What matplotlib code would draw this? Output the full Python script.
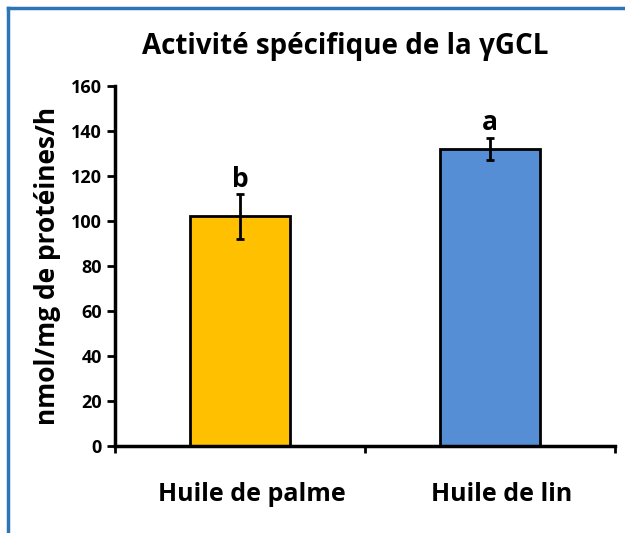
import matplotlib.pyplot as plt
from matplotlib.lines import Line2D
from matplotlib.transforms import ScaledTranslation

categories = ['Huile de palme', 'Huile de lin']
values = [102, 132]
errors = [10, 5]
letters = ['b', 'a']
colors = ['#FFC000', '#558ED5']

plt.rcParams['font.family'] = ['Open Sans', 'DejaVu Sans']

fig = plt.figure(figsize=(6.25, 5.33), dpi=100)
ax = fig.add_axes([0.184, 0.163, 0.8, 0.676])

x = [0.5, 1.5]
ax.bar(x, values, width=0.4, color=colors, edgecolor='black', linewidth=2, zorder=2)
ax.errorbar(x, values, yerr=errors, fmt='none', ecolor='black', elinewidth=2,
            capsize=3, capthick=2, zorder=3)
for xi, v, e, l in zip(x, values, errors, letters):
    ax.text(xi, v + e + 0.5, l, ha='center', va='bottom', fontsize=19, fontweight='bold')

ax.set_xlim(0, 2)
ax.set_ylim(0, 160)
ax.set_yticks(range(0, 161, 20))
ax.tick_params(axis='y', labelsize=13, width=2, length=6, direction='out')
for lbl in ax.get_yticklabels():
    lbl.set_fontweight('bold')
ax.set_xticks([0, 1, 2])
ax.set_xticklabels([])
ax.tick_params(axis='x', width=2, length=5, direction='out')
ax.set_xticks(x, minor=True)
ax.set_xticklabels(categories, minor=True, fontsize=18, fontweight='bold')
ax.tick_params(axis='x', which='minor', length=0, pad=26)
# labels sit a little right of the bar centres in the original
shift = ScaledTranslation(12 / 100, 0, fig.dpi_scale_trans)
for lbl in ax.get_xticklabels(minor=True):
    lbl.set_transform(lbl.get_transform() + shift)

for s in ['top', 'right']:
    ax.spines[s].set_visible(False)
for s in ['left', 'bottom']:
    ax.spines[s].set_linewidth(2.5)

ax.set_ylabel('nmol/mg de protéines/h', fontsize=19, fontweight='bold', labelpad=7)
fig.text(0.552, 0.913, 'Activité spécifique de la γGCL', ha='center', va='center',
         fontsize=20, fontweight='bold')

# blue frame on left and top
fig.add_artist(Line2D([0.012, 0.012], [0, 0.985], color='#2E75B6', linewidth=2.5))
fig.add_artist(Line2D([0.012, 1], [0.985, 0.985], color='#2E75B6', linewidth=2.5))

plt.savefig('out.png', dpi=100)
plt.close()
